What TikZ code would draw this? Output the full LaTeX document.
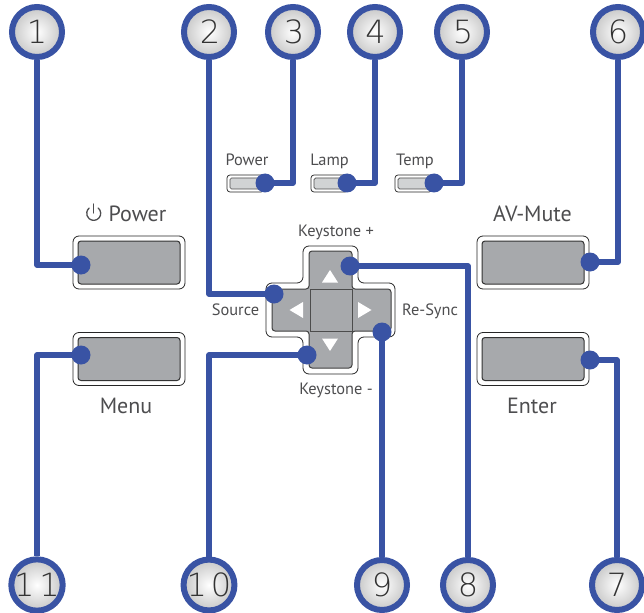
\documentclass[tikz,border=0pt]{standalone}
\usepackage{fontspec}
\setmainfont{PT Sans}
\newfontfamily\numfont{DejaVu Sans ExtraLight}
\definecolor{bluel}{HTML}{3953A4}
\definecolor{btn}{HTML}{A7A9AC}
\definecolor{led}{HTML}{D1D3D4}
\definecolor{txt}{HTML}{4D4D4F}
\tikzset{
 num/.style={circle,draw=bluel,line width=6pt,minimum size=50pt,inner sep=0pt,inner color=white,outer color=black!22,text=black!80,font=\numfont\fontsize{32}{32}\selectfont},
 dot/.style={circle,fill=bluel,minimum size=19pt,inner sep=0pt},
 conn/.style={draw=bluel,line width=5.5pt,line join=round},
 outerbtn/.style={rectangle,rounded corners=6pt,draw=black!85,line width=.8pt,fill=white,inner sep=0pt,minimum width=112pt,minimum height=53pt},
 innerbtn/.style={rectangle,rounded corners=3pt,draw=black!80,line width=1pt,fill=btn,inner sep=0pt,minimum width=102pt,minimum height=43pt},
 outerled/.style={rectangle,rounded corners=3pt,draw=black!85,line width=.7pt,fill=white,inner sep=0pt,minimum width=37pt,minimum height=17pt},
 innerled/.style={rectangle,rounded corners=1.5pt,draw=black!70,line width=.7pt,fill=led,inner sep=0pt,minimum width=31pt,minimum height=11pt},
 big/.style={text=txt,inner sep=0pt,anchor=base,font=\fontsize{22}{22}\selectfont},
 small/.style={text=txt,inner sep=0pt,anchor=base,font=\fontsize{16.4}{16.4}\selectfont},
 tri/.style={fill=white,draw=none},
}
\begin{document}
\begin{tikzpicture}[x=1pt,y=-1pt]
\useasboundingbox (0,0) rectangle (644,612);
% buttons
\foreach \n/\x/\y in {bp/129/262.5,bm/129/359,ba/533/262.5,be/533/359}{
 \node[outerbtn] at (\x,\y) {};
 \node[innerbtn] (\n) at (\x,\y) {};
}
% LEDs
\foreach \n/\x in {la/245.5,lb/329.5,lc/413.5}{
 \node[outerled] at (\x,183.5) {};
 \node[innerled] (\n) at (\x,183.5) {};
}
% D-pad
\draw[fill=white,draw=black!85,line width=.8pt,rounded corners=6pt]
 (303,246)--(358,246)--(358,283)--(395,283)--(395,337)--(358,337)--(358,374)--(303,374)--(303,337)--(266,337)--(266,283)--(303,283)--cycle;
\draw[fill=btn,draw=none,rounded corners=3pt]
 (309,251)--(352,251)--(352,289)--(391,289)--(391,331)--(352,331)--(352,368)--(309,368)--(309,331)--(272,331)--(272,289)--(309,289)--cycle;
\draw[draw=black!75,line width=1pt,rounded corners=3pt]
 (309,289)--(309,251)--(352,251)--(352,289)--(391,289)--(391,331)--(352,331)--(352,368)--(309,368)--(309,331)--(272,331)--(272,289)--cycle;
\draw[black!70,line width=1pt] (310,289)--(352,289)--(352,331)--(310,331)--cycle;
\fill[tri] (330,270)--(338,282.5)--(322,282.5)--cycle;
\fill[tri] (330,351)--(338,338.5)--(322,338.5)--cycle;
\fill[tri] (289.5,310)--(303,302)--(303,318)--cycle;
\fill[tri] (371.5,310)--(358,302)--(358,318)--cycle;
% labels
\node[big] (tp) at (137.5,221) {Power};
\draw[txt,line width=1.3pt,line cap=round] (98.2,208) arc[start angle=-50,end angle=230,radius=7];
\draw[txt,line width=1.3pt,line cap=round] (93.7,204)--(93.7,213);
\node[big] (tm) at (126,413.5) {Menu};
\node[big] (tv) at (532.5,221) {AV-Mute};
\node[big] (te) at (532,413.5) {Enter};
\node[small] (t1) at (247,165.5) {Power};
\node[small] (t2) at (329.5,165.5) {Lamp};
\node[small] (t3) at (415,165.5) {Temp};
\node[small] (t4) at (336,236.5) {Keystone +};
\node[small] (t5) at (235.5,315) {Source};
\node[small] (t6) at (430,315) {Re-Sync};
\node[small] (t7) at (336,394.5) {Keystone -};
% dots
\node[dot] (d1) at (81,265) {};
\node[dot] (d2) at (274,294) {};
\node[dot] (d3) at (265,183) {};
\node[dot] (d4) at (347,183) {};
\node[dot] (d5) at (434,183) {};
\node[dot] (d6) at (590,262) {};
\node[dot] (d7) at (590,360) {};
\node[dot] (d8) at (350,266) {};
\node[dot] (d9) at (382,332) {};
\node[dot] (d10) at (307,355) {};
\node[dot] (d11) at (81,355) {};
% numbered circles
\node[num] (n1) at (37,32) {1};
\node[num] (n2) at (209,32) {\kern2pt 2};
\node[num] (n3) at (293,32) {\kern2pt 3};
\node[num] (n4) at (375,32) {\kern1pt 4};
\node[num] (n5) at (462,32) {\kern2pt 5};
\node[num] (n6) at (618,32) {6};
\node[num] (n7) at (617,585) {7};
\node[num] (n8) at (468,585) {8};
\node[num] (n9) at (382,585) {9};
\node[num] (n10) at (209,585) {1\kern4pt 0};
\node[num] (n11) at (37,585) {1\kern5pt 1};
% connectors
\draw[conn] (n1.south) |- (d1.center);
\draw[conn] (n2.south) |- (d2.center);
\draw[conn] (n3.south) |- (d3.center);
\draw[conn] (n4.south) |- (d4.center);
\draw[conn] (n5.south) |- (d5.center);
\draw[conn] (n6.south) |- (d6.center);
\draw[conn] (n7.north) |- (d7.center);
\draw[conn] (n8.north) |- (d8.center);
\draw[conn] (n9.north) -- (d9.center);
\draw[conn] (n10.north) |- (d10.center);
\draw[conn] (n11.north) |- (d11.center);
\end{tikzpicture}
\end{document}
